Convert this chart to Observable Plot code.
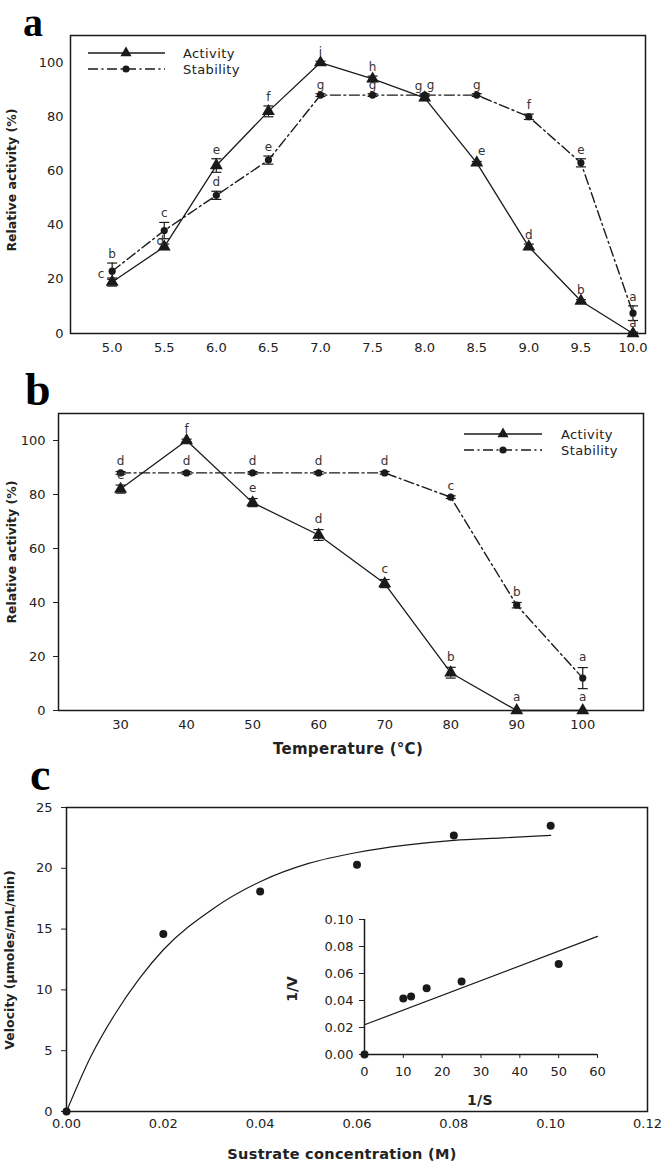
<!DOCTYPE html>
<html><head><meta charset="utf-8">
<script src="https://cdn.jsdelivr.net/npm/d3@7"></script>
<script src="https://cdn.jsdelivr.net/npm/@observablehq/plot@0.6"></script>
<style>
body{margin:0;background:#fff;}
#wrap{position:relative;width:662px;height:1163px;overflow:hidden;background:#fff;}
#wrap > svg{position:absolute;left:0;}
</style></head><body><div id="wrap"></div>
<script>
// ---------- Panel a: pH ----------
const phValues   = [5.0, 5.5, 6.0, 6.5, 7.0, 7.5, 8.0, 8.5, 9.0, 9.5, 10.0];
const phActivity = [19, 32, 62, 82, 100, 94, 87, 63, 32, 12, 0];
const phActErr   = [1.5, 1, 2.5, 2, 0.5, 1, 1, 0.5, 1, 0.5, 0.5];
const phActLetters = ["c","d","e","f","i","h","g","e","d","b","a"];
const phStability = [23, 38, 51, 64, 88, 88, 88, 88, 80, 63, 7.5];
const phStabErr   = [3, 3, 1.5, 1.5, 0.5, 0.5, 0.5, 0.5, 1, 1.5, 2.7];
const phStabLetters = ["b","c","d","e","g","g","g","g","f","e","a"];

// ---------- Panel b: temperature ----------
const tempValues    = [30, 40, 50, 60, 70, 80, 90, 100];
const tempActivity  = [82, 100, 77, 65, 47, 14, 0, 0];
const tempActErr    = [1.5, 0.5, 1.5, 2, 1.5, 2, 0, 0];
const tempActLetters = ["e","f","e","d","c","b","a","a"];
const tempStability = [88, 88, 88, 88, 88, 79, 39, 12];
const tempStabErr   = [0.5, 0.5, 0.5, 0.5, 0.5, 0.5, 1, 3.9];
const tempStabLetters = ["d","d","d","d","d","c","b","a"];

// ---------- Panel c: substrate kinetics ----------
const substrate = [0, 0.02, 0.04, 0.06, 0.08, 0.10];
const velocity  = [0, 14.6, 18.1, 20.3, 22.7, 23.5];
const fitS = [0, 0.005, 0.01, 0.015, 0.02, 0.03, 0.04, 0.05, 0.06, 0.07, 0.08, 0.09, 0.10];
const fitV = [0, 4.5, 8.0, 10.9, 13.3, 16.6, 18.9, 20.4, 21.3, 21.9, 22.3, 22.5, 22.7];
// inset: Lineweaver-Burk
const invS = [0, 10, 12, 16, 25, 50];
const invV = [0, 0.0415, 0.043, 0.049, 0.054, 0.067];
const lbLineX = [0, 60];
const lbLineY = [0.022, 0.0875];

const phTicks = phValues;
const relTicks = [0, 20, 40, 60, 80, 100];
const tempTicks = tempValues;
const velTicks = [0, 5, 10, 15, 20, 25];
const concTicks = [0, 0.02, 0.04, 0.06, 0.08, 0.10, 0.12];
const invSTicks = [0, 10, 20, 30, 40, 50, 60];
const invVTicks = [0, 0.02, 0.04, 0.06, 0.08, 0.10];

// ---------- helpers ----------
const INK = "#1a1a1a";
const capSym = {draw(ctx){ ctx.moveTo(-5, 0); ctx.lineTo(5, 0); }};
const dashDot = "10,3.5,2,3.5";
const baseStyle = {fontFamily: "'DejaVu Sans', sans-serif", fontSize: "13px", color: "#222", background: "transparent"};

function rowsOf(xs, ys, es, ls) {
  return xs.map((x, i) => ({x, y: ys[i], e: es[i], l: ls[i]}));
}
function seriesMarks(rows, symbol, r, dash, sw) {
  const errRows = rows.filter(d => d.e > 0);
  return [
    Plot.line(rows, {x: "x", y: "y", stroke: INK, strokeWidth: sw, strokeDasharray: dash}),
    Plot.ruleX(errRows, {x: "x", y1: d => d.y - d.e, y2: d => d.y + d.e, stroke: INK, strokeWidth: 1.2}),
    Plot.dot(errRows, {x: "x", y: d => d.y + d.e, symbol: capSym, fill: "none", stroke: INK, strokeWidth: 1.2}),
    Plot.dot(errRows, {x: "x", y: d => d.y - d.e, symbol: capSym, fill: "none", stroke: INK, strokeWidth: 1.2}),
    Plot.dot(rows, {x: "x", y: "y", symbol, r, fill: INK, stroke: "none"})
  ];
}
function letterMarks(rows, baseDy, special) {
  const groups = new Map();
  for (const d of rows) {
    const s = special[d.x] || [0, baseDy];
    const k = s.join(",");
    if (!groups.has(k)) groups.set(k, {s, rows: []});
    groups.get(k).rows.push(d);
  }
  return [...groups.values()].map(g => Plot.text(g.rows, {
    x: "x", y: d => d.y + d.e, text: "l", dx: g.s[0], dy: g.s[1],
    fill: "#333", fontSize: 12, fontFamily: "'DejaVu Sans', sans-serif"
  }));
}
const wrap = document.getElementById("wrap");
function place(svg, top, left) { svg.style.top = top + "px"; svg.style.left = (left || 0) + "px"; wrap.appendChild(svg); }

// ---------- Panel a ----------
const aAct = rowsOf(phValues, phActivity, phActErr, phActLetters);
const aStab = rowsOf(phValues, phStability, phStabErr, phStabLetters);
const plotA = Plot.plot({
  width: 662, height: 360, marginLeft: 70, marginRight: 17, marginTop: 35, marginBottom: 27,
  style: baseStyle,
  x: {domain: [4.6, 10.12], ticks: phTicks, tickFormat: d => d.toFixed(1), tickSize: 0, tickPadding: 9, label: null},
  y: {domain: [0, 110], ticks: relTicks, tickSize: 0, tickPadding: 7, label: null},
  marks: [
    Plot.frame({stroke: INK, strokeWidth: 1.5}),
    ...seriesMarks(aStab, "circle", 3.6, dashDot, 1.4),
    ...seriesMarks(aAct, "triangle", 4.8, null, 1.3),
    ...letterMarks(aAct, -9, {5: [-11, -4], 5.5: [-4, -3], 8: [-6, -9], 8.5: [5, -10]}),
    ...letterMarks(aStab, -9, {8: [6, -9]})
  ]
});
place(plotA, 0);

// ---------- Panel b ----------
const bAct = rowsOf(tempValues, tempActivity, tempActErr, tempActLetters);
const bStab = rowsOf(tempValues, tempStability, tempStabErr, tempStabLetters);
const plotB = Plot.plot({
  width: 662, height: 400, marginLeft: 58, marginRight: 19, marginTop: 53, marginBottom: 50,
  style: baseStyle,
  x: {domain: [20.6, 109.2], ticks: tempTicks, tickSize: 0, tickPadding: 9, label: null},
  y: {domain: [0, 110], ticks: relTicks, tickSize: 5, tickPadding: 8, label: null},
  marks: [
    Plot.frame({stroke: INK, strokeWidth: 1.5}),
    ...seriesMarks(bStab, "circle", 3.6, dashDot, 1.4),
    ...seriesMarks(bAct, "triangle", 4.8, null, 1.3),
    ...letterMarks(bAct, -10, {90: [0, -13], 100: [0, -13]}),
    ...letterMarks(bStab, -10, {})
  ]
});
place(plotB, 360);

// ---------- Panel c ----------
const cPts = substrate.map((s, i) => ({s, v: velocity[i]}));
const cFit = fitS.map((s, i) => ({s, v: fitV[i]}));
const plotC = Plot.plot({
  width: 662, height: 403, marginLeft: 66, marginRight: 15, marginTop: 47, marginBottom: 52,
  style: baseStyle,
  x: {domain: [0, 0.12], ticks: concTicks, tickFormat: d3.format(".2f"), tickSize: 0, tickPadding: 7, label: null},
  y: {domain: [0, 25], ticks: velTicks, tickSize: 5, tickPadding: 9, label: null},
  marks: [
    Plot.frame({stroke: INK, strokeWidth: 1.5}),
    Plot.line(cFit, {x: "s", y: "v", curve: "monotone-x", stroke: INK, strokeWidth: 1.2}),
    Plot.dot(cPts, {x: "s", y: "v", r: 4, fill: INK, stroke: "none"})
  ]
});
place(plotC, 760);

// ---------- Inset ----------
const insetPts = invS.map((x, i) => ({x, y: invV[i]}));
const insetLine = lbLineX.map((x, i) => ({x, y: lbLineY[i]}));
const plotI = Plot.plot({
  width: 340, height: 210, marginLeft: 84, marginRight: 23, marginTop: 19, marginBottom: 56,
  style: baseStyle,
  x: {domain: [0, 60], ticks: invSTicks, tickSize: 4, tickPadding: 8, label: null},
  y: {domain: [0, 0.1], ticks: invVTicks, tickFormat: d3.format(".2f"), tickSize: 5, tickPadding: 6, label: null},
  marks: [
    Plot.ruleY([0], {stroke: INK, strokeWidth: 1.5}),
    Plot.ruleX([0], {stroke: INK, strokeWidth: 1.5}),
    Plot.line(insetLine, {x: "x", y: "y", stroke: INK, strokeWidth: 1.2}),
    Plot.dot(insetPts, {x: "x", y: "y", r: 4, fill: INK, stroke: "none"})
  ]
});
place(plotI, 900, 280);

// ---------- Overlay: panel letters, axis titles, legends ----------
const ov = d3.create("svg").attr("width", 662).attr("height", 1163)
  .attr("style", "position:absolute;left:0;top:0;font-family:'DejaVu Sans',sans-serif;");
const serif = "'Liberation Serif','DejaVu Serif',serif";
[["a", 23, 36, 40], ["b", 25, 405, 46], ["c", 30, 790, 46]].forEach(([t, x, y, fs]) =>
  ov.append("text").attr("x", x).attr("y", y).attr("font-family", serif).attr("font-weight", "bold")
    .attr("font-size", fs).attr("fill", "#000").text(t));
function rotTitle(t, x, y, size) {
  ov.append("text").attr("transform", `translate(${x},${y}) rotate(-90)`).attr("text-anchor", "middle")
    .attr("font-weight", "bold").attr("font-size", size).attr("fill", "#222").text(t);
}
rotTitle("Relative activity (%)", 16, 180, 12.5);
rotTitle("Relative activity (%)", 16, 552, 12.5);
rotTitle("Velocity (µmoles/mL/min)", 14, 960, 12.5);
rotTitle("1/V", 297, 989, 14);
function hTitle(t, x, y, size) {
  ov.append("text").attr("x", x).attr("y", y).attr("text-anchor", "middle")
    .attr("font-weight", "bold").attr("font-size", size).attr("fill", "#222").attr("letter-spacing", 0.3).text(t);
}
hTitle("Temperature (°C)", 348, 754, 15);
hTitle("Sustrate concentration (M)", 342, 1159, 14.5);
hTitle("1/S", 480, 1105, 14);
function legend(x0, x1, xm, y1, y2, tx) {
  ov.append("line").attr("x1", x0).attr("x2", x1).attr("y1", y1).attr("y2", y1).attr("stroke", INK).attr("stroke-width", 1.3);
  ov.append("path").attr("d", d3.symbol(d3.symbolTriangle, Math.PI * 4.8 * 4.8 * 0.75)()).attr("transform", `translate(${xm},${y1})`).attr("fill", INK);
  ov.append("line").attr("x1", x0).attr("x2", x1).attr("y1", y2).attr("y2", y2).attr("stroke", INK).attr("stroke-width", 1.4).attr("stroke-dasharray", dashDot);
  ov.append("circle").attr("cx", xm).attr("cy", y2).attr("r", 3.6).attr("fill", INK);
  ov.append("text").attr("x", tx).attr("y", y1 + 4.5).attr("font-size", 13).attr("fill", "#222").attr("letter-spacing", 0.4).text("Activity");
  ov.append("text").attr("x", tx).attr("y", y2 + 4.5).attr("font-size", 13).attr("fill", "#222").attr("letter-spacing", 0.4).text("Stability");
}
legend(88, 165, 126, 53, 69, 183);
legend(464, 542, 503, 434, 450, 561);
wrap.appendChild(ov.node());
</script></body></html>
